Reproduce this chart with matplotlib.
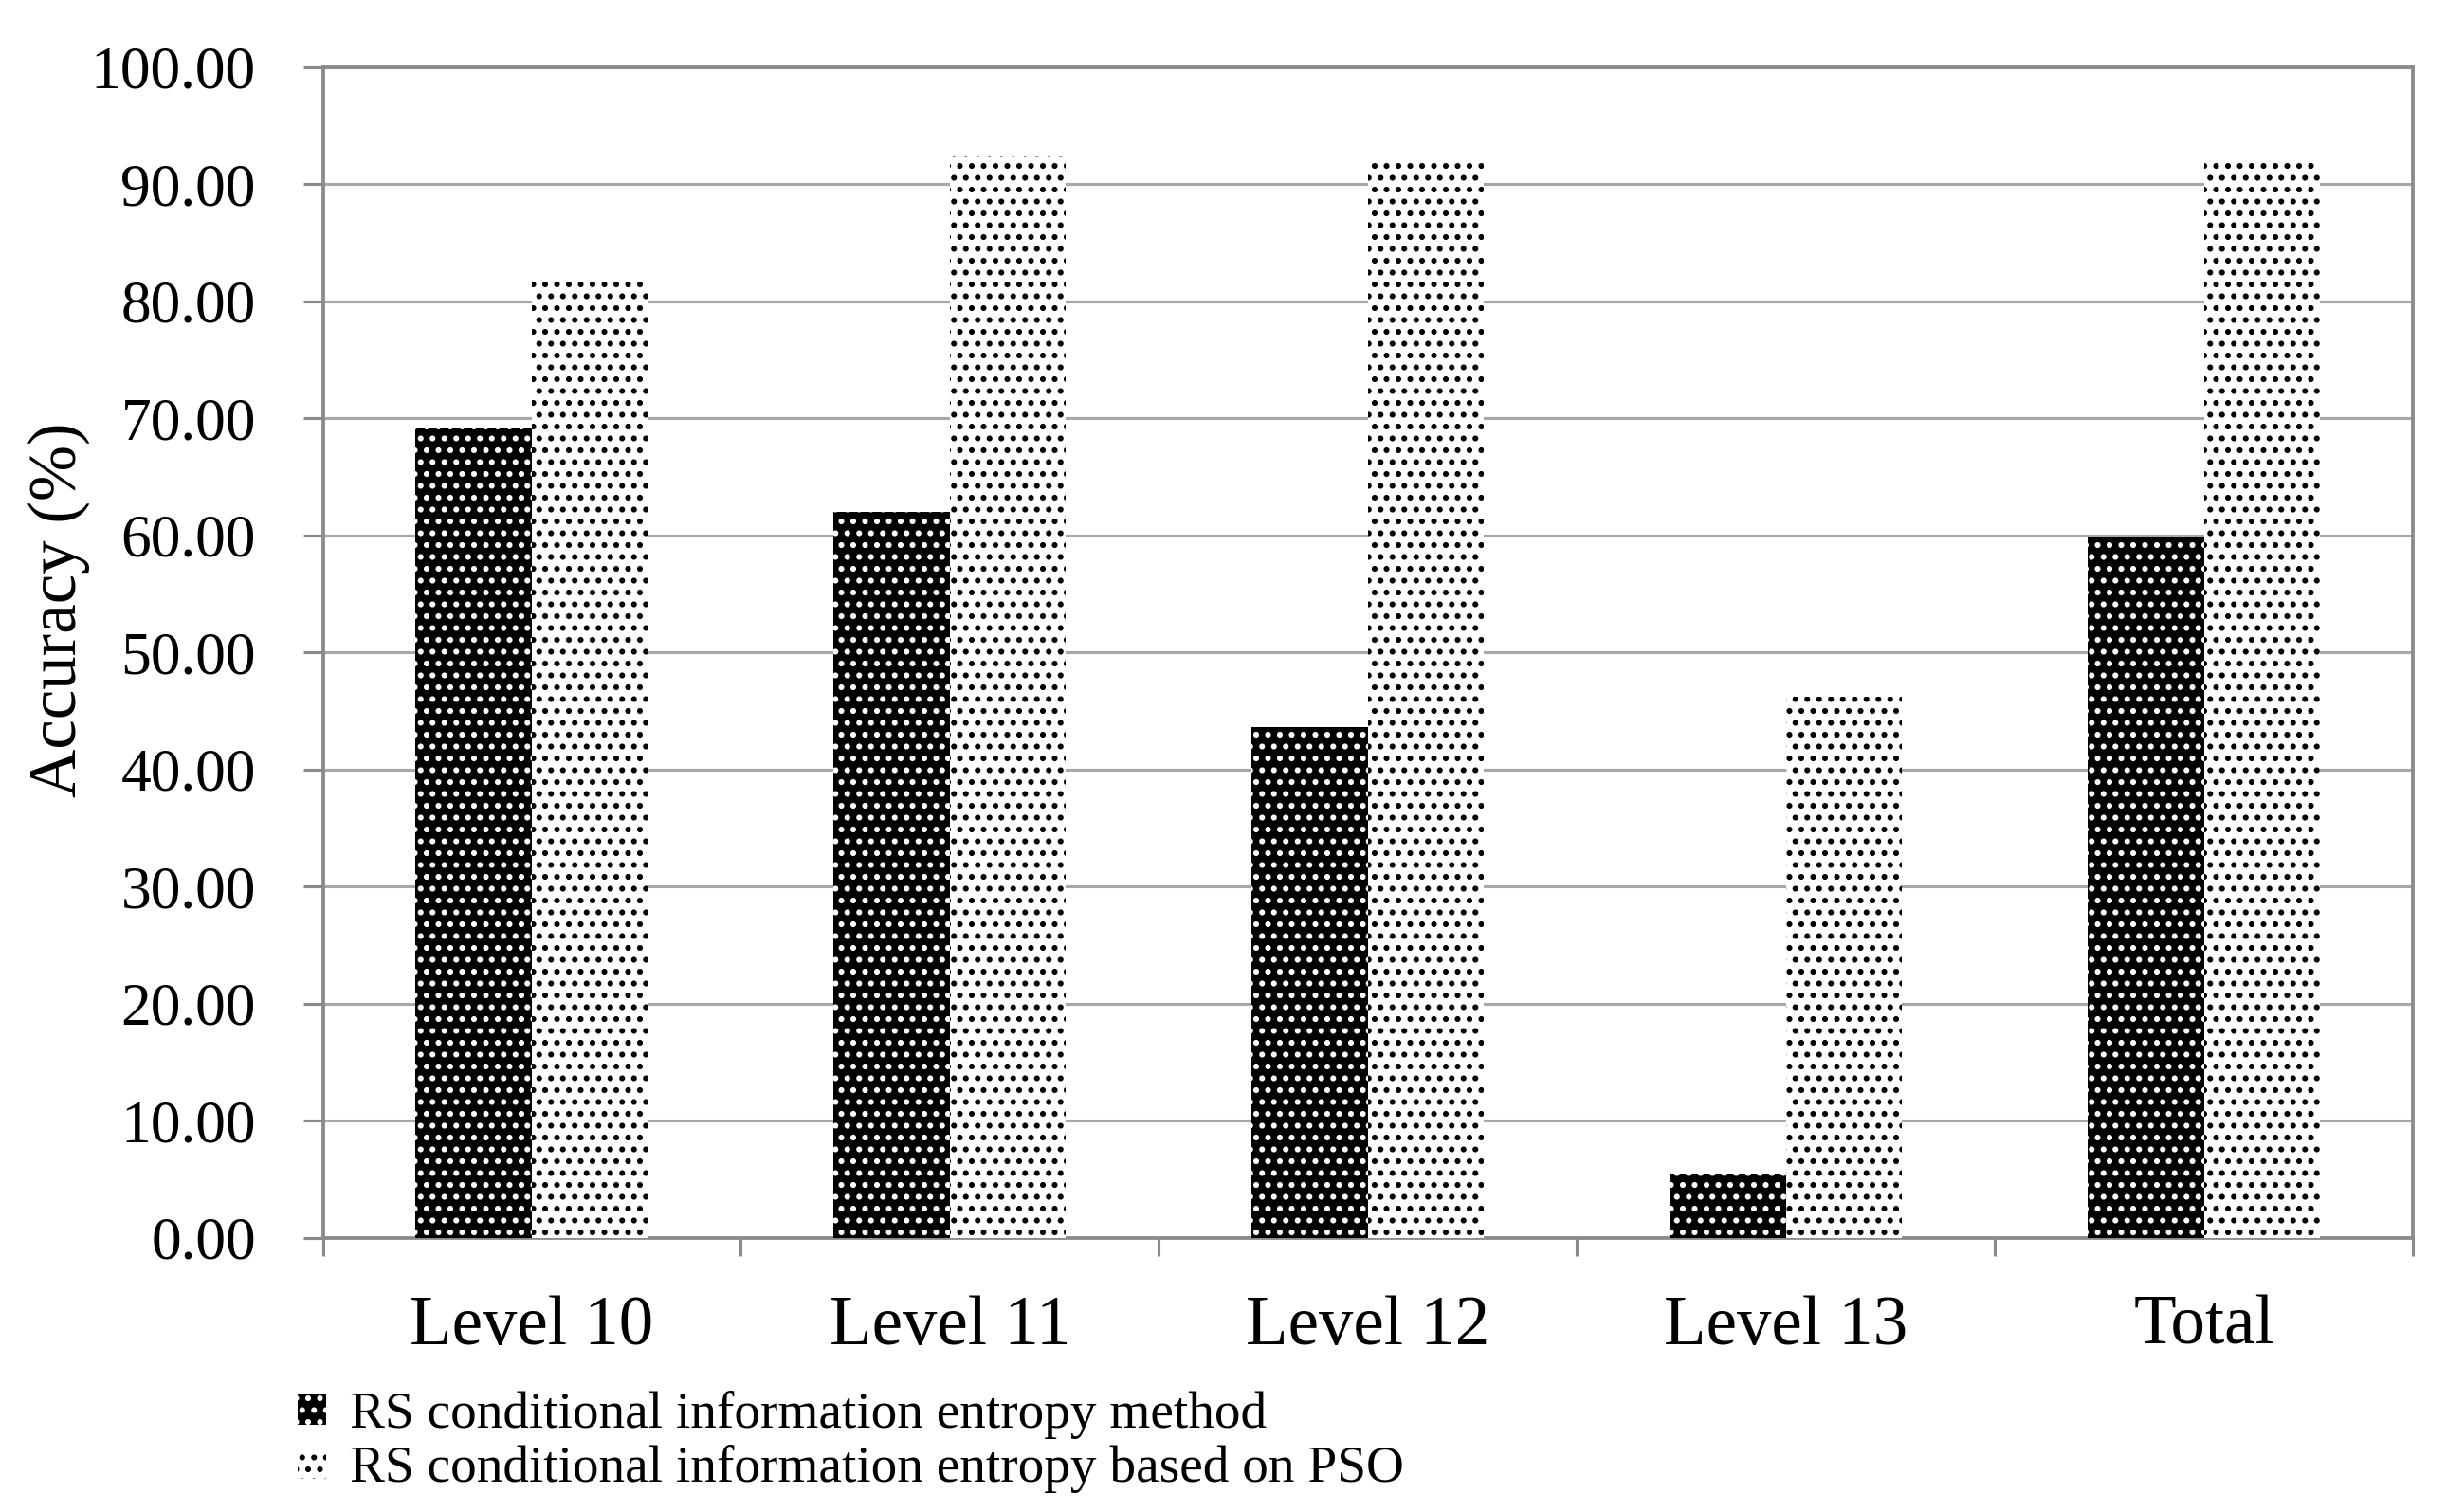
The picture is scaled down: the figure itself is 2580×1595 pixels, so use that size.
import matplotlib
matplotlib.use("Agg")
import matplotlib.pyplot as plt
import numpy as np
from matplotlib.patches import Patch

categories = ["Level 10", "Level 11", "Level 12", "Level 13", "Total"]
rs_method = [69.1, 62.0, 43.6, 5.5, 59.9]
pso_method = [81.8, 92.4, 91.8, 46.2, 91.8]
y_ticks = [0, 10, 20, 30, 40, 50, 60, 70, 80, 90, 100]
series_labels = ["RS conditional information entropy method",
                 "RS conditional information entropy based on PSO"]

plt.rcParams['font.family'] = ['Liberation Serif', 'DejaVu Serif']
plt.rcParams['hatch.linewidth'] = 1.7

DPI = 150
fig = plt.figure(figsize=(2580 / DPI, 1595 / DPI), dpi=DPI)
L, R, T, B = 340.6, 2545, 70.75, 1306
ax = fig.add_axes([L / 2580, 1 - B / 1595, (R - L) / 2580, (B - T) / 1595])

x = np.arange(len(categories))
w = 0.278
grid_c = '#a8a8a8'
frame_c = '#8a8a8a'

ax.bar(x - w / 2, rs_method, width=w, facecolor='black', edgecolor='white',
       hatch='..', linewidth=0, zorder=3)
ax.bar(x + w / 2, pso_method, width=w, facecolor='white', edgecolor='black',
       hatch='..', linewidth=0, zorder=3)

ax.set_xlim(-0.5, len(categories) - 0.5)
ax.set_ylim(0, 100)
ax.set_yticks(y_ticks)
ax.set_yticklabels([f"{v:.2f}" for v in y_ticks])
ax.yaxis.grid(True, color=grid_c, linewidth=1.5, zorder=0)
ax.set_axisbelow(True)

# category boundaries as major ticks, labels at centres via minor ticks
ax.set_xticks(np.arange(len(categories) + 1) - 0.5)
ax.set_xticklabels([])
ax.set_xticks(x, minor=True)
ax.set_xticklabels(categories, minor=True, fontsize=35)
ax.tick_params(axis='x', which='major', direction='out', length=9, width=1.5, color=frame_c)
ax.tick_params(axis='x', which='minor', length=0, pad=29)
ax.tick_params(axis='y', direction='out', length=10, width=1.5, color=frame_c,
               labelsize=30.5, pad=24)

for s in ax.spines.values():
    s.set_color(frame_c)
    s.set_linewidth(1.8)

ax.set_ylabel("Accuracy (%)", fontsize=34, va='center')
ax.yaxis.set_label_coords((62 - L) / (R - L), (B - 643) / (B - T))

handles = [Patch(facecolor='black', edgecolor='white', hatch='..', linewidth=0),
           Patch(facecolor='white', edgecolor='black', hatch='..', linewidth=0)]
fig.legend(handles, series_labels, loc='center left',
           bbox_to_anchor=(314 / 2580, 1 - 1521 / 1595), frameon=False,
           fontsize=26.5, handlelength=0.55, handleheight=0.55, handletextpad=0.45,
           labelspacing=0.12, borderpad=0, borderaxespad=0)

fig.savefig("out.png", dpi=DPI, facecolor='white')
